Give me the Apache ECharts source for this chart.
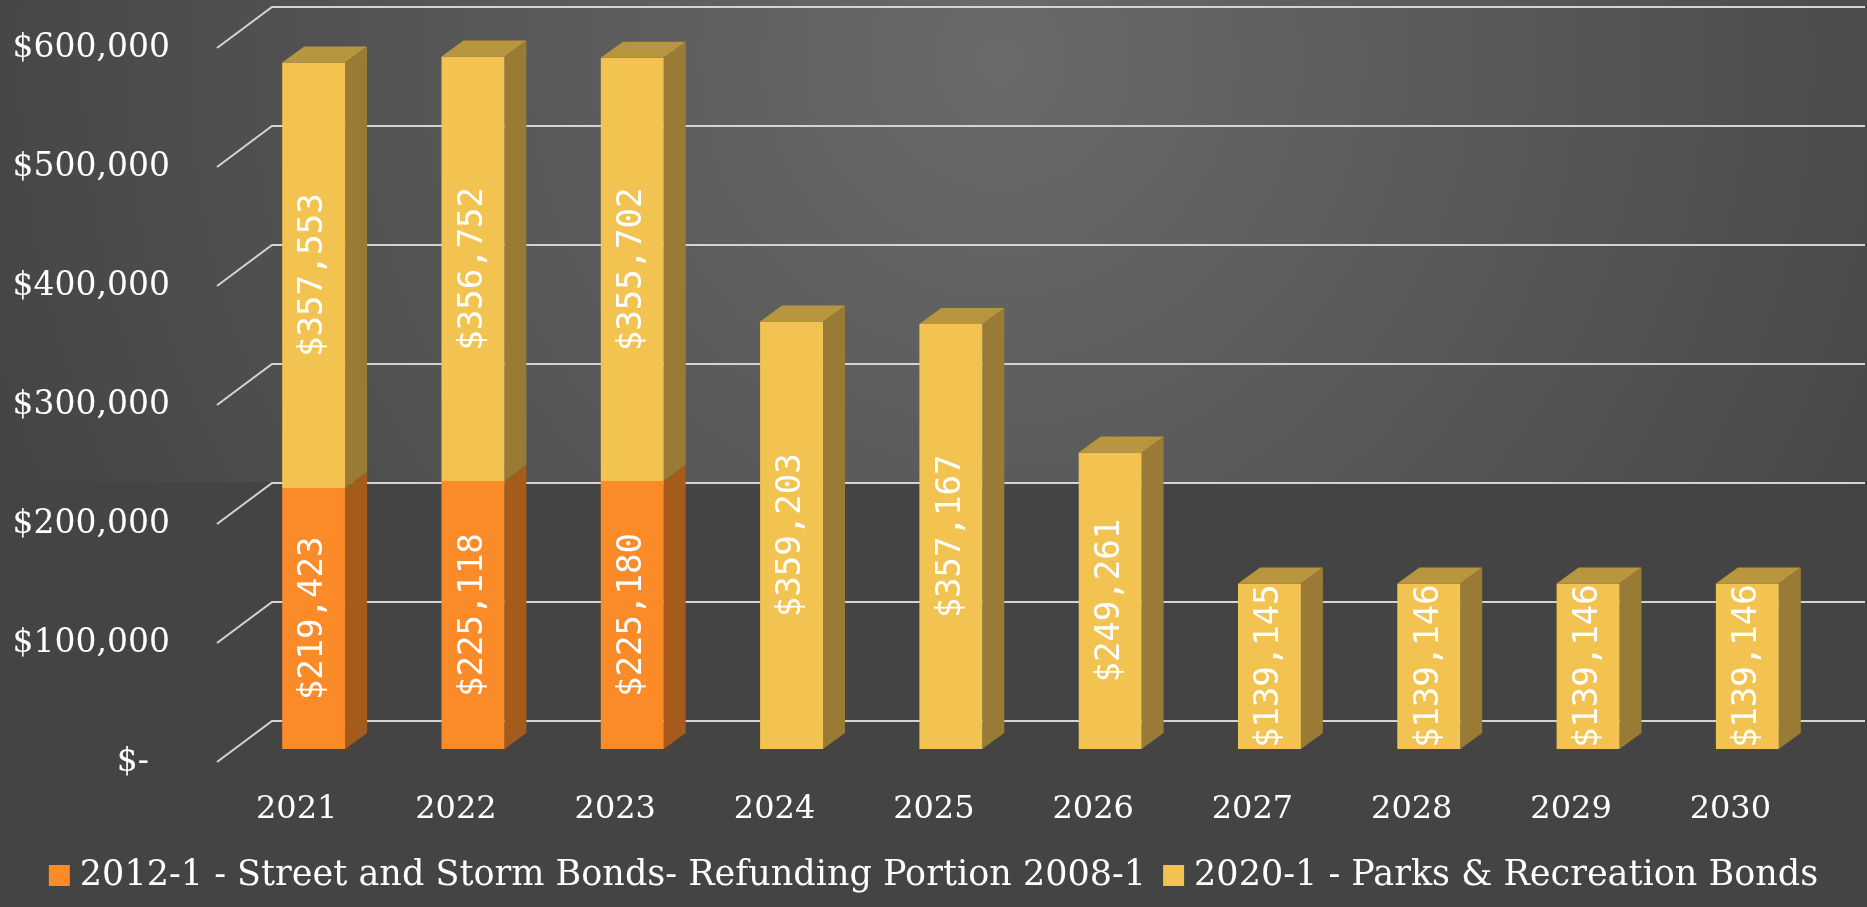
<!DOCTYPE html>
<html>
<head>
<meta charset="utf-8">
<script src="https://cdn.jsdelivr.net/npm/echarts@6/dist/echarts.min.js"></script>
<style>
  html, body { margin: 0; padding: 0; background: #444444; }
  #chart { width: 1867px; height: 907px; }
</style>
</head>
<body>
<div id="chart"></div>
<script>
// Debt service by year, two bond issues
const years = ['2021', '2022', '2023', '2024', '2025', '2026', '2027', '2028', '2029', '2030'];
const streetStorm = [219423, 225118, 225180, 0, 0, 0, 0, 0, 0, 0];
const parksRec = [357553, 356752, 355702, 359203, 357167, 249261, 139145, 139146, 139146, 139146];
const yTicks = [0, 100000, 200000, 300000, 400000, 500000, 600000];
const seriesNames = [
  '2012-1 - Street and Storm Bonds- Refunding Portion 2008-1',
  '2020-1 - Parks & Recreation Bonds'
];

// 3D look: depth of the floor/back wall and of each bar, in pixels
const WALL_DX = 55, WALL_DY = 41;
const FACE_DX = 17, FACE_DY = 13;   // bar front face sits slightly behind the floor's front edge
const BAR_DX = 22, BAR_DY = 16;     // bar depth
const BAR_RATIO = 0.395;

const palette = {
  orange: { front: '#FA8B28', side: '#A45B1C', top: '#C8701F' },
  yellow: { front: '#F2C350', side: '#9A7B35', top: '#B8953F' }
};

const fmtMoney = v => '$' + v.toLocaleString('en-US');

function barRenderer(colors) {
  return function (params, api) {
    const ci = api.value(0), base = api.value(1), val = api.value(2), isTop = api.value(3);
    const p0 = api.coord([ci, base]);
    const p1 = api.coord([ci, base + val]);
    const bandW = api.size([1, 0])[0];
    const w = bandW * BAR_RATIO;
    const cx = p0[0] + FACE_DX;
    const xl = cx - w / 2, xr = cx + w / 2;
    const yb = p0[1] - FACE_DY, yt = p1[1] - FACE_DY;
    const children = [
      { type: 'polygon', shape: { points: [[xr, yt], [xr + BAR_DX, yt - BAR_DY], [xr + BAR_DX, yb - BAR_DY], [xr, yb]] },
        style: { fill: colors.side } },
      { type: 'rect', shape: { x: xl, y: yt, width: w, height: yb - yt }, style: { fill: colors.front } }
    ];
    if (isTop) {
      children.push({ type: 'polygon', shape: { points: [[xl, yt], [xr, yt], [xr + BAR_DX, yt - BAR_DY], [xl + BAR_DX, yt - BAR_DY]] },
        style: { fill: colors.top } });
    }
    children.push({
      type: 'text', x: cx, y: (yt + yb) / 2, rotation: Math.PI / 2,
      style: { text: fmtMoney(val), fill: '#ffffff', font: '34px "DejaVu Sans Mono"', align: 'center', verticalAlign: 'middle' }
    });
    return { type: 'group', children };
  };
}

const orangeData = [], yellowData = [];
years.forEach((y, i) => {
  if (streetStorm[i] > 0) orangeData.push([i, 0, streetStorm[i], parksRec[i] > 0 ? 0 : 1]);
  if (parksRec[i] > 0) yellowData.push([i, streetStorm[i], parksRec[i], 1]);
});

const chart = echarts.init(document.getElementById('chart'), null, { renderer: 'canvas' });
chart.setOption({
  backgroundColor: '#444444',
  animation: false,
  textStyle: { fontFamily: '"DejaVu Serif"' },
  graphic: [{
    type: 'rect', z: -10, silent: true,
    shape: { x: 0, y: 0, width: 1867, height: 482 },
    style: {
      fill: { type: 'radial', x: 1000, y: 60, r: 1050, global: true,
        colorStops: [{ offset: 0, color: '#6a6a6a' }, { offset: 1, color: '#454545' }] }
    }
  }],
  grid: { left: 217, right: 57, top: 48, bottom: 145 },
  legend: {
    data: seriesNames,
    bottom: 9,
    left: 'center',
    icon: 'rect',
    itemWidth: 21, itemHeight: 21,
    itemGap: 17,
    textStyle: { color: '#ffffff', fontSize: 35, fontFamily: '"DejaVu Serif"', padding: [0, 0, 0, 5] }
  },
  xAxis: {
    type: 'category',
    data: years,
    axisLine: { show: false }, axisTick: { show: false }, splitLine: { show: false },
    axisLabel: { color: '#ffffff', fontSize: 32, margin: 32, fontFamily: '"DejaVu Serif"' }
  },
  yAxis: {
    type: 'value', min: 0, max: 600000, interval: 100000,
    axisLine: { show: false }, axisTick: { show: false }, splitLine: { show: false },
    axisLabel: {
      color: '#ffffff', fontSize: 33, margin: 47, fontFamily: '"DejaVu Serif"',
      formatter: v => v === 0 ? '$-  ' : fmtMoney(v)
    }
  },
  series: [
    {
      type: 'custom', name: 'grid', silent: true, z: 1, zlevel: 0,
      data: yTicks.map(v => [0, v]),
      encode: { x: 0, y: 1 },
      renderItem: function (params, api) {
        const p = api.coord([0, api.value(1)]);
        const cs = params.coordSys;
        const y = p[1], x0 = cs.x, x1 = cs.x + cs.width;
        return {
          type: 'polyline',
          shape: { points: [[x0, y], [x0 + WALL_DX, y - WALL_DY], [x1 + WALL_DX, y - WALL_DY]] },
          style: { stroke: '#d4d4d4', lineWidth: 2, fill: null }
        };
      }
    },
    {
      type: 'custom', name: seriesNames[0], z: 3, zlevel: 1,
      itemStyle: { color: palette.orange.front },
      data: orangeData, encode: { x: 0, y: 2 },
      renderItem: barRenderer(palette.orange)
    },
    {
      type: 'custom', name: seriesNames[1], z: 3, zlevel: 1,
      itemStyle: { color: palette.yellow.front },
      data: yellowData, encode: { x: 0, y: 2 },
      renderItem: barRenderer(palette.yellow)
    }
  ]
});
</script>
</body>
</html>
